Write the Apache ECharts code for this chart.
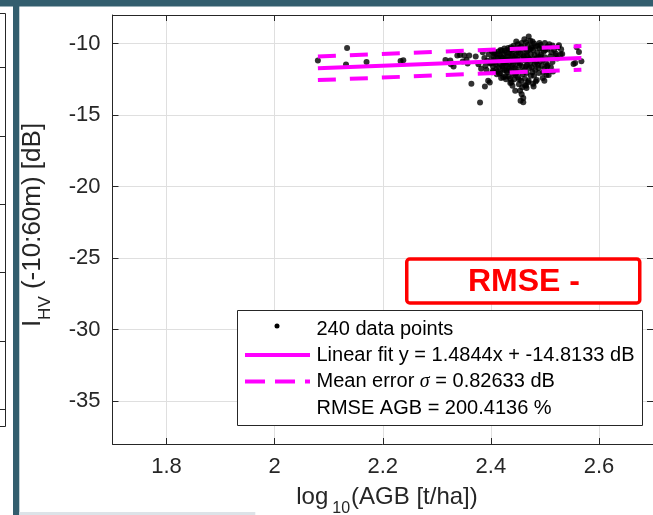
<!DOCTYPE html>
<html><head><meta charset="utf-8">
<script src="https://cdn.jsdelivr.net/npm/echarts@6/dist/echarts.min.js"></script>
<style>html,body{margin:0;padding:0;background:#fff;overflow:hidden}#c{width:653px;height:515px}</style>
</head><body><div id="c"></div>
<script>
// ---- tick values ----
const xTicks = [1.8, 2, 2.2, 2.4, 2.6];
const yTicks = [-35, -30, -25, -20, -15, -10];

// ---- data: log10(AGB) and I_HV ----
const agbX = [
  // sparse left part
  2.080, 2.134, 2.132, 2.170, 2.233, 2.238, 2.316, 2.325, 2.326, 2.331, 2.338, 2.343, 2.351, 2.355, 2.360, 2.364, 2.348, 2.357,
  2.372, 2.380, 2.385, 2.389, 2.395, 2.398, 2.390, 2.388, 2.393, 2.377, 2.382, 2.396, 2.399, 2.392,
  // main cluster
  2.402, 2.405, 2.401, 2.408, 2.404, 2.410, 2.403, 2.412, 2.406, 2.414, 2.409, 2.413, 2.400, 2.411, 2.407, 2.415, 2.404, 2.410, 2.416, 2.403, 2.412,
  2.418, 2.420, 2.417, 2.422, 2.419, 2.424, 2.421, 2.425, 2.418, 2.427, 2.423, 2.428, 2.426, 2.429, 2.420, 2.430, 2.424, 2.428, 2.422, 2.430, 2.417, 2.425, 2.419, 2.429, 2.423, 2.427,
  2.432, 2.435, 2.438, 2.433, 2.440, 2.436, 2.442, 2.434, 2.439, 2.444, 2.437, 2.441, 2.433, 2.443, 2.438, 2.440, 2.436, 2.445, 2.431, 2.443, 2.437, 2.441, 2.434, 2.444, 2.439, 2.432, 2.445, 2.436, 2.442, 2.435,
  2.447, 2.450, 2.452, 2.448, 2.455, 2.449, 2.457, 2.451, 2.454, 2.458, 2.446, 2.453, 2.459, 2.450, 2.456, 2.452, 2.458, 2.454, 2.457, 2.460, 2.455, 2.448, 2.451, 2.456, 2.459, 2.447, 2.453, 2.460, 2.449, 2.457, 2.452, 2.446,
  2.462, 2.465, 2.470, 2.468, 2.463, 2.472, 2.466, 2.474, 2.461, 2.469, 2.464, 2.473, 2.467, 2.471, 2.462, 2.466, 2.474, 2.463, 2.469, 2.465, 2.466, 2.463, 2.470, 2.460, 2.475, 2.468, 2.472, 2.465, 2.473, 2.467,
  2.477, 2.480, 2.483, 2.478, 2.486, 2.481, 2.488, 2.479, 2.484, 2.487, 2.476, 2.482, 2.489, 2.480, 2.485, 2.478, 2.483, 2.490, 2.476, 2.485, 2.481, 2.488, 2.477, 2.490, 2.486, 2.479,
  2.492, 2.495, 2.498, 2.493, 2.500, 2.496, 2.502, 2.494, 2.499, 2.497, 2.503, 2.491, 2.501, 2.505, 2.496, 2.504, 2.492, 2.500,
  // right part
  2.505, 2.514, 2.526, 2.532, 2.520, 2.511, 2.559, 2.563, 2.5675, 2.553, 2.520, 2.529, 2.514, 2.505, 2.556, 2.508, 2.517, 2.523, 2.510, 2.515, 2.507, 2.499, 2.530, 2.524, 2.512
];
const hvY = [
  -11.19, -10.30, -11.47, -11.28, -11.21, -11.17, -11.14, -11.19, -11.45, -11.60, -10.84, -10.80, -10.84, -11.15, -10.84, -12.80, -11.25, -11.40,
  -10.90, -14.12, -10.60, -13.00, -12.60, -12.72, -11.55, -11.00, -11.20, -11.45, -11.75, -10.75, -11.40, -11.85,
  -10.55, -10.90, -11.10, -11.30, -11.60, -11.80, -12.00, -11.95, -10.70, -10.55, -11.45, -11.00, -11.35, -12.15, -10.60, -11.65, -11.90, -10.95, -12.10, -11.25, -10.75,
  -10.45, -10.50, -10.80, -11.00, -11.20, -11.40, -11.60, -11.85, -12.05, -12.30, -12.35, -12.50, -10.50, -10.65, -10.95, -11.15, -11.30, -11.50, -11.75, -12.00, -11.45, -10.35, -12.40, -11.90, -10.75, -11.05,
  -10.30, -10.40, -10.45, -10.65, -10.85, -11.00, -11.20, -11.35, -11.55, -11.70, -11.90, -12.10, -12.30, -12.50, -12.70, -12.95, -12.75, -13.30, -10.90, -10.35, -10.25, -11.45, -11.75, -11.05, -10.70, -11.60, -12.20, -12.45, -10.15, -11.15,
  -9.85, -10.05, -10.30, -10.50, -10.70, -10.90, -11.05, -11.25, -11.40, -11.60, -11.75, -11.95, -12.15, -12.35, -12.60, -12.85, -13.05, -13.30, -13.55, -13.80, -14.00, -11.10, -10.60, -10.20, -10.45, -12.05, -11.55, -10.85, -11.35, -9.95, -12.50, -10.80,
  -9.70, -9.90, -9.50, -10.10, -10.30, -10.40, -10.60, -10.75, -10.90, -11.00, -11.20, -11.35, -11.50, -11.70, -11.85, -12.05, -12.25, -12.45, -12.70, -12.95, -13.10, -12.90, -12.60, -14.10, -10.20, -10.50, -11.10, -11.60, -9.80, -10.85,
  -9.85, -10.00, -10.20, -10.45, -10.60, -10.80, -10.95, -11.10, -11.30, -11.50, -11.65, -11.85, -12.05, -12.25, -12.55, -12.80, -12.65, -10.35, -10.30, -11.00, -11.45, -11.70, -12.00, -9.95, -10.15, -13.00,
  -10.10, -10.35, -10.55, -10.75, -10.95, -11.15, -11.35, -11.55, -11.75, -12.00, -12.20, -11.25, -10.45, -10.20, -12.40, -11.60, -10.90, -9.95,
  -10.37, -10.14, -10.12, -10.72, -10.84, -11.65, -10.26, -10.58, -11.24, -11.42, -10.70, -10.77, -11.28, -11.51, -11.35, -10.05, -10.45, -11.05, -10.90, -11.95, -12.20, -12.60, -10.40, -10.25, -10.60
];

// ---- linear fit and +/- mean error lines (end points) ----
const fitX = [2.08, 2.5675];
const fitY = [-11.7257, -11.0021];
const upperY = [-10.8994, -10.1758];
const lowerY = [-12.5520, -11.8284];

// ---- texts ----
const legendTexts = ['240 data points', 'Linear fit y = 1.4844x + -14.8133 dB', 'Mean error ', '\u03C3', ' = 0.82633 dB', 'RMSE AGB = 200.4136 %'];
const rmseTitle = 'RMSE -';

const FONT = '"Liberation Sans", Arial, Helvetica, sans-serif';
const AX = '#262626';
const GRIDC = '#dfdfdf';
const TEAL = '#335e6e';
const MAG = '#ff00ff';

const points = agbX.map((x, i) => [x, hvY[i]]);
const pair = (xs, ys) => xs.map((x, i) => [x, ys[i]]);

const chart = echarts.init(document.getElementById('c'), null, {renderer: 'canvas'});

const axisCommon = {
  type: 'value',
  axisLine: {show: true, onZero: false, lineStyle: {color: AX, width: 1}},
  axisTick: {show: true, inside: true, length: 6, lineStyle: {color: AX, width: 1}},
};

const legendY = [329, 355, 381.5, 408];
const leftTickY = [67, 136, 204, 272, 341, 409];

const graphics = [
  {type: 'rect', z: 100, shape: {x: 0, y: 0, width: 653, height: 6.5}, style: {fill: TEAL}},
  {type: 'rect', z: 100, shape: {x: 13, y: 0, width: 6.3, height: 515}, style: {fill: TEAL}},
  {type: 'rect', z: 100, shape: {x: 19.3, y: 512, width: 236, height: 3}, style: {fill: '#dde3e8'}},
  {type: 'polyline', z: 100, shape: {points: [[0, 13.5], [5.5, 13.5], [5.5, 426.5], [0, 426.5]]}, style: {stroke: AX, lineWidth: 1, fill: null}},
  ...leftTickY.map(y => ({type: 'line', z: 100, shape: {x1: 0, y1: y + 0.5, x2: 5.5, y2: y + 0.5}, style: {stroke: AX, lineWidth: 1}})),
  // y axis title
  {type: 'text', z: 100, x: 33, y: 225, rotation: Math.PI / 2,
    style: {text: '{m|I}{s|HV}{m| (-10:60m) [dB]}', align: 'center', verticalAlign: 'middle', fill: AX,
      rich: {m: {fontSize: 26, fontFamily: FONT, lineHeight: 42, verticalAlign: 'middle', fill: AX},
             s: {fontSize: 17, fontFamily: FONT, lineHeight: 17, verticalAlign: 'bottom', fill: AX}}}},
  // x axis title
  {type: 'text', z: 100, x: 387, y: 497,
    style: {text: '{m|log}{s|10}{m|(AGB [t/ha])}', align: 'center', verticalAlign: 'middle', fill: AX,
      rich: {m: {fontSize: 24, fontFamily: FONT, lineHeight: 40, verticalAlign: 'middle', fill: AX},
             s: {fontSize: 16, fontFamily: FONT, lineHeight: 16, verticalAlign: 'bottom', fill: AX, padding: [0, 1, 0, 4]}}}},
  // legend
  {type: 'rect', z: 100, shape: {x: 237.5, y: 310.5, width: 405, height: 115}, style: {fill: '#fff', stroke: AX, lineWidth: 1}},
  {type: 'circle', z: 101, shape: {cx: 277, cy: 326, r: 2.5}, style: {fill: '#000'}},
  {type: 'line', z: 101, shape: {x1: 245, y1: legendY[1], x2: 310, y2: legendY[1]}, style: {stroke: MAG, lineWidth: 4}},
  {type: 'line', z: 101, shape: {x1: 245, y1: legendY[2], x2: 310, y2: legendY[2]}, style: {stroke: MAG, lineWidth: 4, lineDash: [20, 10]}},
  {type: 'text', z: 101, x: 316.5, y: legendY[0], style: {text: legendTexts[0], font: '20px ' + FONT, fill: '#000', verticalAlign: 'middle'}},
  {type: 'text', z: 101, x: 316.5, y: legendY[1], style: {text: legendTexts[1], font: '20px ' + FONT, fill: '#000', verticalAlign: 'middle'}},
  {type: 'text', z: 101, x: 316.5, y: legendY[2], style: {text: '{n|' + legendTexts[2] + '}{g|' + legendTexts[3] + '}{n|' + legendTexts[4] + '}', verticalAlign: 'middle', fill: '#000',
      rich: {n: {fontSize: 20, fontFamily: FONT, fill: '#000', verticalAlign: 'middle'}, g: {fontSize: 20, fontFamily: '"Liberation Serif", "DejaVu Serif", serif', fontStyle: 'italic', fill: '#000', verticalAlign: 'middle'}}}},
  {type: 'text', z: 101, x: 316.5, y: legendY[3], style: {text: legendTexts[5], font: '20px ' + FONT, fill: '#000', verticalAlign: 'middle'}},
  // RMSE box
  {type: 'rect', z: 100, shape: {x: 406.75, y: 259, width: 233, height: 44, r: 3}, style: {fill: '#fff', stroke: '#ff0000', lineWidth: 3.5}},
  {type: 'text', z: 101, x: 524, y: 282, style: {text: rmseTitle, font: 'bold 32px ' + FONT, fill: '#ff0000', align: 'center', verticalAlign: 'middle'}}
];

const option = {
  animation: false,
  backgroundColor: '#fff',
  grid: {left: 112.5, top: 15, width: 548, height: 429, containLabel: false},
  xAxis: [
    Object.assign({}, axisCommon, {
      min: 1.7, max: 2.7, position: 'bottom',
      axisTick: Object.assign({}, axisCommon.axisTick, {customValues: xTicks}),
      axisLabel: {show: true, customValues: xTicks, margin: 12, fontSize: 22, color: AX, fontFamily: FONT,
        formatter: v => String(+(+v).toFixed(2))},
      splitLine: {show: true, lineStyle: {color: GRIDC, width: 1}}
    }),
    Object.assign({}, axisCommon, {
      min: 1.7, max: 2.7, position: 'top',
      axisTick: Object.assign({}, axisCommon.axisTick, {customValues: xTicks}),
      axisLabel: {show: false}, splitLine: {show: false}
    })
  ],
  yAxis: [
    Object.assign({}, axisCommon, {
      min: -38, max: -8, position: 'left',
      axisTick: Object.assign({}, axisCommon.axisTick, {customValues: yTicks}),
      axisLabel: {show: true, customValues: yTicks, margin: 12, fontSize: 22, color: AX, fontFamily: FONT},
      splitLine: {show: true, lineStyle: {color: GRIDC, width: 1}}
    }),
    Object.assign({}, axisCommon, {
      min: -38, max: -8, position: 'right',
      axisTick: Object.assign({}, axisCommon.axisTick, {customValues: yTicks}),
      axisLabel: {show: false}, splitLine: {show: false}
    })
  ],
  series: [
    {type: 'scatter', name: legendTexts[0], data: points, symbol: 'circle', symbolSize: 6,
      itemStyle: {color: '#000'}, z: 2, silent: true},
    {type: 'line', name: 'fit', data: pair(fitX, fitY), symbol: 'none', showSymbol: false,
      lineStyle: {color: MAG, width: 4}, z: 3, silent: true},
    {type: 'line', name: 'upper', data: pair(fitX, upperY), symbol: 'none', showSymbol: false,
      lineStyle: {color: MAG, width: 4, type: [18, 14]}, z: 3, silent: true},
    {type: 'line', name: 'lower', data: pair(fitX, lowerY), symbol: 'none', showSymbol: false,
      lineStyle: {color: MAG, width: 4, type: [18, 14]}, z: 3, silent: true}
  ],
  graphic: graphics
};
chart.setOption(option);
</script>
</body></html>
